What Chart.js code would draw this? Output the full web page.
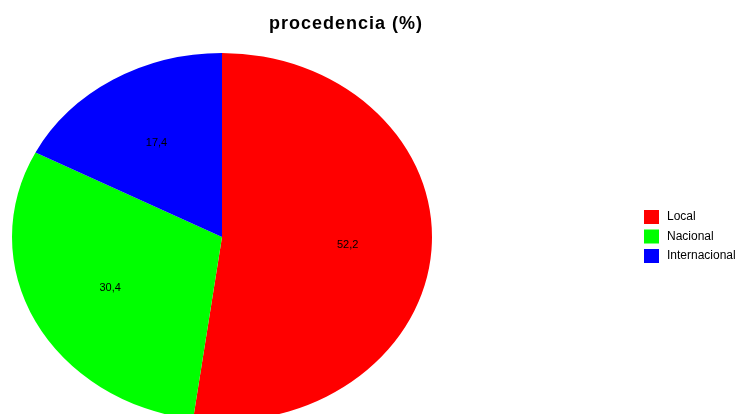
<!DOCTYPE html>
<html>
<head>
<meta charset="utf-8">
<script src="https://cdn.jsdelivr.net/npm/chart.js@4/dist/chart.umd.min.js"></script>
<style>
  html, body { margin: 0; padding: 0; background: #fff; }
  #wrap { width: 737px; height: 414px; }
</style>
</head>
<body>
<div id="wrap"><canvas id="pieChart" width="737" height="414"></canvas></div>
<script>
var titleText = 'procedencia (%)'
var categories = ['Local', 'Nacional', 'Internacional']
var values = [52.2, 30.4, 17.4]
var colours = ['#ff0000', '#00ff00', '#0000ff']

// the original pie is an ellipse, wider than tall
var stretchX = 210 / 184

function fmt(v) {
  return v.toFixed(1).replace('.', ',')
}

var ellipsePlugin = {
  id: 'ellipse',
  beforeDatasetsDraw: function(chart) {
    var arc = chart.getDatasetMeta(0).data[0]
    var ctx = chart.ctx
    ctx.save()
    ctx.translate(arc.x, arc.y)
    ctx.scale(stretchX, 1)
    ctx.translate(-arc.x, -arc.y)
  },
  afterDatasetsDraw: function(chart) {
    chart.ctx.restore()
  }
}

var extrasPlugin = {
  id: 'extras',
  afterDraw: function(chart) {
    var ctx = chart.ctx
    var meta = chart.getDatasetMeta(0)

    // values inside the slices
    ctx.save()
    ctx.fillStyle = '#000'
    ctx.font = '11px "Liberation Sans", Arial, sans-serif'
    ctx.textAlign = 'center'
    ctx.textBaseline = 'middle'
    meta.data.forEach(function(arc, i) {
      var mid = (arc.startAngle + arc.endAngle) / 2
      var r = arc.outerRadius * 0.6
      var x = arc.x + Math.cos(mid) * r * stretchX
      var y = arc.y + Math.sin(mid) * r
      ctx.fillText(fmt(values[i]), x, y)
    })
    ctx.restore()

    // title
    ctx.save()
    ctx.fillStyle = '#000'
    ctx.font = 'bold 18px "Liberation Sans", Arial, sans-serif'
    ctx.letterSpacing = '1px'
    ctx.textAlign = 'center'
    ctx.textBaseline = 'middle'
    ctx.fillText(titleText, 346, 24)
    ctx.restore()

    // legend
    ctx.save()
    ctx.font = '12px "Liberation Sans", Arial, sans-serif'
    ctx.textBaseline = 'middle'
    categories.forEach(function(label, i) {
      var y = 217 + i * 19.5
      ctx.fillStyle = colours[i]
      ctx.fillRect(644, y - 7, 15, 14)
      ctx.fillStyle = '#000'
      ctx.fillText(label, 667, y)
    })
    ctx.restore()
  }
}

var ctx = document.getElementById('pieChart').getContext('2d')
var pieChart = new Chart(ctx, {
  type: 'pie',
  data: {
    labels: categories,
    datasets: [{
      data: values,
      backgroundColor: colours,
      borderWidth: 0,
      radius: 184
    }]
  },
  options: {
    responsive: false,
    animation: false,
    layout: {
      padding: { left: 0, right: 293, top: 60, bottom: 0 }
    },
    plugins: {
      legend: { display: false },
      title: { display: false },
      tooltip: { enabled: false }
    }
  },
  plugins: [ellipsePlugin, extrasPlugin]
})
</script>
</body>
</html>
